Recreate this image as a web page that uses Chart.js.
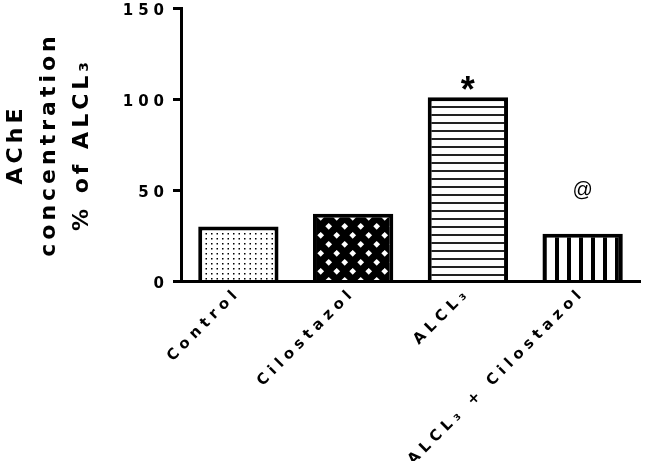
<!DOCTYPE html>
<html>
<head>
<meta charset="utf-8">
<script src="https://cdn.jsdelivr.net/npm/chart.js@4.4.1/dist/chart.umd.min.js"></script>
<style>
  html, body { margin: 0; padding: 0; background: #fff; }
  #wrap { width: 646px; height: 461px; position: relative; }
</style>
</head>
<body>
<div id="wrap"><canvas id="acheChart"></canvas></div>
<script>
// data
const categories = ['Control', 'Cilostazol', 'ALCL₃', 'ALCL₃ + Cilostazol'];
const acheValues = [30, 37, 101, 26];
const markTexts = ['', '', '*', '@'];
const markLevels = [null, null, 109, 50];
const yTitleLines = ['AChE', 'concentration', '% of ALCL₃'];
const yMin = 0;
const yMax = 150;
const yStep = 50;

const FONT = '"DejaVu Sans", "Liberation Sans", Arial, sans-serif';
const MARK_FONT = '"Liberation Sans", Arial, sans-serif';

// small repeating tiles for the bar fills
function makePattern(w, h, paint) {
    const c = document.createElement('canvas');
    c.width = w;
    c.height = h;
    const g = c.getContext('2d');
    paint(g, w, h);
    return g.createPattern(c, 'repeat');
}

const dotFill = makePattern(11, 5, (g, w, h) => {
    g.fillStyle = '#fff';
    g.fillRect(0, 0, w, h);
    g.fillStyle = '#000';
    g.fillRect(2, 3, 1.5, 1.5);
    g.fillRect(7.5, 3, 1.5, 1.5);
});

const diamondFill = makePattern(16, 18, (g, w, h) => {
    g.fillStyle = '#000';
    g.fillRect(0, 0, w, h);
    g.fillStyle = '#fff';
    const centers = [[0.7, 1.3], [8.7, 10.3]];
    for (const [cx0, cy0] of centers) {
        for (let dx = -1; dx <= 1; dx++) {
            for (let dy = -1; dy <= 1; dy++) {
                const cx = cx0 + dx * w, cy = cy0 + dy * h;
                g.beginPath();
                g.moveTo(cx, cy - 3.4);
                g.lineTo(cx + 3.4, cy);
                g.lineTo(cx, cy + 3.4);
                g.lineTo(cx - 3.4, cy);
                g.closePath();
                g.fill();
            }
        }
    }
});

const hLineFill = makePattern(8, 8, (g, w, h) => {
    g.fillStyle = '#fff';
    g.fillRect(0, 0, w, h);
    g.fillStyle = '#222';
    g.fillRect(0, 2, w, 2);
});

const vLineFill = makePattern(12, 4, (g, w, h) => {
    g.fillStyle = '#fff';
    g.fillRect(0, 0, w, h);
    g.fillStyle = '#000';
    g.fillRect(3, 0, 4, h);
});

// wide letter spacing like the original figure
const spacingPlugin = {
    id: 'spacing',
    beforeDraw(chart) {
        chart.ctx.letterSpacing = '5px';
        const ys = chart.scales.y;
        if (ys && !ys._spacedTitle) {
            const orig = ys.drawTitle;
            ys.drawTitle = function () {
                const c = this.ctx;
                c.letterSpacing = '4px';
                orig.call(this);
                c.letterSpacing = '5px';
            };
            ys._spacedTitle = true;
        }
    },
    afterDraw(chart) {
        chart.ctx.letterSpacing = '0px';
    }
};

// significance marks above bars
const markPlugin = {
    id: 'marks',
    afterDatasetsDraw(chart) {
        const { ctx, scales: { x, y } } = chart;
        ctx.save();
        ctx.letterSpacing = '0px';
        ctx.textAlign = 'center';
        ctx.textBaseline = 'alphabetic';
        ctx.fillStyle = '#000';
        markTexts.forEach((t, i) => {
            if (!t) return;
            ctx.font = t === '*' ? 'bold 36px ' + MARK_FONT : '20px ' + MARK_FONT;
            const m = ctx.measureText(t);
            const cy = y.getPixelForValue(markLevels[i]);
            const off = (m.actualBoundingBoxAscent - m.actualBoundingBoxDescent) / 2;
            ctx.fillText(t, x.getPixelForValue(i), cy + off);
        });
        ctx.restore();
    }
};

Chart.defaults.color = '#000';
Chart.defaults.font.family = FONT;

const ctx = document.getElementById('acheChart').getContext('2d');
new Chart(ctx, {
    type: 'bar',
    data: {
        labels: categories,
        datasets: [{
            data: acheValues,
            backgroundColor: [dotFill, diamondFill, hLineFill, vLineFill],
            borderColor: '#000',
            borderWidth: 4,
            borderSkipped: 'start',
            barPercentage: 0.7,
            categoryPercentage: 1.0
        }]
    },
    options: {
        responsive: true,
        maintainAspectRatio: false,
        animation: false,
        devicePixelRatio: 1,
        layout: {
            padding: { top: 8, right: 6, bottom: 0, left: 0 }
        },
        plugins: {
            legend: { display: false },
            tooltip: { enabled: false }
        },
        scales: {
            x: {
                grid: { display: false, drawTicks: false },
                border: { display: true, color: '#000', width: 3, z: 1 },
                ticks: {
                    autoSkip: false,
                    minRotation: 45,
                    maxRotation: 45,
                    padding: 3,
                    font: { size: 15, weight: 'bold' }
                },
                afterFit(scale) {
                    scale.height = 180;
                    scale.paddingLeft = 0;
                    scale.paddingRight = 0;
                }
            },
            y: {
                min: yMin,
                max: yMax,
                grid: {
                    drawOnChartArea: false,
                    drawTicks: true,
                    tickLength: 8,
                    tickWidth: 3,
                    tickColor: '#000'
                },
                border: { display: true, color: '#000', width: 3, z: 1 },
                ticks: {
                    stepSize: yStep,
                    padding: 4,
                    labelOffset: 3.5,
                    font: { size: 15, weight: 'bold' }
                },
                title: {
                    display: true,
                    text: yTitleLines,
                    padding: 0,
                    font: { size: 22, weight: 'bold', lineHeight: 1.5 }
                },
                afterFit(scale) {
                    scale.width = 181;
                    scale.paddingTop = 0;
                    scale.paddingBottom = 0;
                }
            }
        }
    },
    plugins: [spacingPlugin, markPlugin]
});
</script>
</body>
</html>
